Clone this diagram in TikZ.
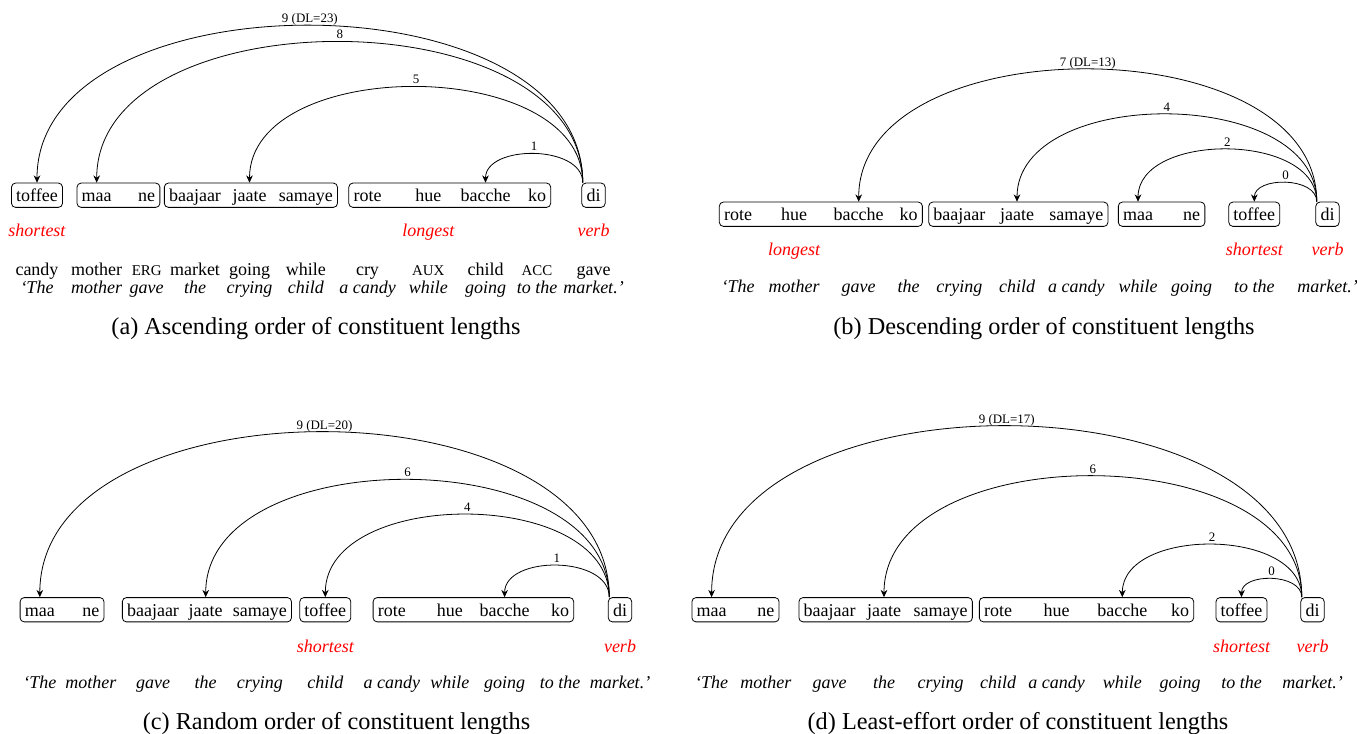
\documentclass[tikz,border=0pt]{standalone}
\usepackage{fontspec}
\setmainfont{Liberation Serif}
\usetikzlibrary{arrows.meta,fit}

\tikzset{
  word/.style={inner sep=0pt, anchor=base, text height=11pt, text depth=1.6pt, font=\fontsize{13.5}{16}\selectfont},
  grp/.style={draw, rounded corners=3pt, line width=0.6pt, inner xsep=3.3pt, inner ysep=2.6pt},
  dep/.style={-{Stealth[length=5.5pt,width=5pt,inset=1.8pt]}, line width=0.6pt},
  lab/.style={midway, above, inner sep=0.5pt, text height=6.5pt, text depth=1.5pt, font=\fontsize{9.7}{11}\selectfont},
  tag/.style={anchor=base, inner sep=0pt, text=red, font=\fontsize{13.5}{16}\selectfont\itshape},
  gloss/.style={anchor=base, inner sep=0pt, font=\fontsize{13.5}{16}\selectfont},
  trans/.style={anchor=base, inner sep=0pt, font=\fontsize{13.5}{16}\selectfont\itshape},
  subcap/.style={anchor=base, inner sep=0pt, font=\fontsize{18.2}{21}\selectfont}
}
\newcommand{\gsc}[1]{{\fontsize{11.2}{13}\selectfont #1}}

\begin{document}
\begin{tikzpicture}[x=0.75pt, y=-0.75pt]
  \useasboundingbox (0,0) rectangle (1357,734);

  % (a) Ascending order
  \foreach \w/\x [count=\i] in {toffee/37, maa/96.7, ne/146.7, baajaar/195, jaate/249.5, samaye/305.8, rote/367.5, hue/428.3, bacche/485.5, ko/537, di/593.5}
    \node[word] (a\i) at (\x,201.5) {\w};
  \node[grp, fit=(a1)] (aT) {};
  \node[grp, fit=(a2)(a3)] (aM) {};
  \node[grp, fit=(a4)(a6)] (aB) {};
  \node[grp, fit=(a7)(a10)] (aR) {};
  \node[grp, fit=(a11)] (aD) {};
  \draw[dep] ([xshift=1pt]aD.north west) .. controls +(0,-209.3) and +(0,-209.3) .. (a1 |- aD.north) node[lab] (aL1) {9 (DL=23)};
  \draw[dep] ([xshift=1pt]aD.north west) .. controls +(0,-187.6) and +(0,-187.6) .. (a2 |- aD.north) node[lab] (aL2) {8};
  \draw[dep] ([xshift=1pt]aD.north west) .. controls +(0,-127.6) and +(0,-127.6) .. (a5 |- aD.north) node[lab] (aL3) {5};
  \draw[dep] ([xshift=1pt]aD.north west) .. controls +(0,-38.3) and +(0,-38.3) .. (a9 |- aD.north) node[lab] (aL4) {1};
  \node[tag] (aS) at (a1 |- 0,237) {shortest};
  \node[tag] (aLo) at (a8 |- 0,237) {longest};
  \node[tag] (aV) at (a11 |- 0,237) {verb};
  \foreach \w [count=\i] in {candy, mother, \gsc{ERG}, market, going, while, cry, \gsc{AUX}, child, \gsc{ACC}, gave}
    \node[gloss] (ag\i) at (a\i |- 0,276) {\w};
  \foreach \w [count=\i] in {‘The, mother, gave, the, crying, child, a candy, while, going, to the, market.’}
    \node[trans] (at\i) at (a\i |- 0,294) {\w};
  \node[subcap] (capA) at (316,334.5) {(a) Ascending order of constituent lengths};

  % (b) Descending order
  \foreach \w/\x [count=\i] in {rote/738, hue/794, bacche/858.7, ko/908.7, baajaar/959.4, jaate/1017, samaye/1076.3, maa/1138, ne/1191.7, toffee/1254.3, di/1327.5}
    \node[word] (b\i) at (\x,220.5) {\w};
  \node[grp, fit=(b1)(b4)] (bR) {};
  \node[grp, fit=(b5)(b7)] (bB) {};
  \node[grp, fit=(b8)(b9)] (bM) {};
  \node[grp, fit=(b10)] (bT) {};
  \node[grp, fit=(b11)] (bD) {};
  \draw[dep] ([xshift=1pt]bD.north west) .. controls +(0,-176.4) and +(0,-176.4) .. (b3 |- bD.north) node[lab] (bL1) {7 (DL=13)};
  \draw[dep] ([xshift=1pt]bD.north west) .. controls +(0,-116.4) and +(0,-116.4) .. (b6 |- bD.north) node[lab] (bL2) {4};
  \draw[dep] ([xshift=1pt]bD.north west) .. controls +(0,-69.7) and +(0,-69.7) .. (b8 |- bD.north) node[lab] (bL3) {2};
  \draw[dep] ([xshift=1pt]bD.north west) .. controls +(0,-25.3) and +(0,-25.3) .. (b10 |- bD.north) node[lab] (bL4) {0};
  \node[tag] (bLo) at (b2 |- 0,256) {longest};
  \node[tag] (bS) at (b10 |- 0,256) {shortest};
  \node[tag] (bV) at (b11 |- 0,256) {verb};
  \foreach \w [count=\i] in {‘The, mother, gave, the, crying, child, a candy, while, going, to the, market.’}
    \node[trans] (bt\i) at (b\i |- 0,293) {\w};
  \node[subcap] (capB) at (1044,334.5) {(b) Descending order of constituent lengths};

  % (c) Random order
  \foreach \w/\x [count=\i] in {maa/39.8, ne/90.8, baajaar/153, jaate/205.7, samaye/259.8, toffee/325.3, rote/391.8, hue/449.9, bacche/504.6, ko/560, di/620}
    \node[word] (c\i) at (\x,616) {\w};
  \node[grp, fit=(c1)(c2)] (cM) {};
  \node[grp, fit=(c3)(c5)] (cB) {};
  \node[grp, fit=(c6)] (cT) {};
  \node[grp, fit=(c7)(c10)] (cR) {};
  \node[grp, fit=(c11)] (cD) {};
  \draw[dep] ([xshift=1pt]cD.north west) .. controls +(0,-220) and +(0,-220) .. (c1 |- cD.north) node[lab] (cL1) {9 (DL=20)};
  \draw[dep] ([xshift=1pt]cD.north west) .. controls +(0,-156.4) and +(0,-156.4) .. (c4 |- cD.north) node[lab] (cL2) {6};
  \draw[dep] ([xshift=1pt]cD.north west) .. controls +(0,-110.1) and +(0,-110.1) .. (c6 |- cD.north) node[lab] (cL3) {4};
  \draw[dep] ([xshift=1pt]cD.north west) .. controls +(0,-42.1) and +(0,-42.1) .. (c9 |- cD.north) node[lab] (cL4) {1};
  \node[tag] (cS) at (c6 |- 0,652) {shortest};
  \node[tag] (cV) at (c11 |- 0,652) {verb};
  \foreach \w [count=\i] in {‘The, mother, gave, the, crying, child, a candy, while, going, to the, market.’}
    \node[trans] (ct\i) at (c\i |- 0,688) {\w};
  \node[subcap] (capC) at (336.5,729) {(c) Random order of constituent lengths};

  % (d) Least-effort order
  \foreach \w/\x [count=\i] in {maa/711.6, ne/765.9, baajaar/829.6, jaate/884, samaye/940.7, rote/998, hue/1056.5, bacche/1122.3, ko/1180, toffee/1241.5, di/1312.5}
    \node[word] (d\i) at (\x,616) {\w};
  \node[grp, fit=(d1)(d2)] (dM) {};
  \node[grp, fit=(d3)(d5)] (dB) {};
  \node[grp, fit=(d6)(d9)] (dR) {};
  \node[grp, fit=(d10)] (dT) {};
  \node[grp, fit=(d11)] (dD) {};
  \draw[dep] ([xshift=1pt]dD.north west) .. controls +(0,-228) and +(0,-228) .. (d1 |- dD.north) node[lab] (dL1) {9 (DL=17)};
  \draw[dep] ([xshift=1pt]dD.north west) .. controls +(0,-161.3) and +(0,-161.3) .. (d4 |- dD.north) node[lab] (dL2) {6};
  \draw[dep] ([xshift=1pt]dD.north west) .. controls +(0,-70.1) and +(0,-70.1) .. (d8 |- dD.north) node[lab] (dL3) {2};
  \draw[dep] ([xshift=1pt]dD.north west) .. controls +(0,-24.4) and +(0,-24.4) .. (d10 |- dD.north) node[lab] (dL4) {0};
  \node[tag] (dS) at (d10 |- 0,652) {shortest};
  \node[tag] (dV) at (d11 |- 0,652) {verb};
  \foreach \w [count=\i] in {‘The, mother, gave, the, crying, child, a candy, while, going, to the, market.’}
    \node[trans] (dt\i) at (d\i |- 0,688) {\w};
  \node[subcap] (capD) at (1018,729) {(d) Least-effort order of constituent lengths};
\end{tikzpicture}
\end{document}
